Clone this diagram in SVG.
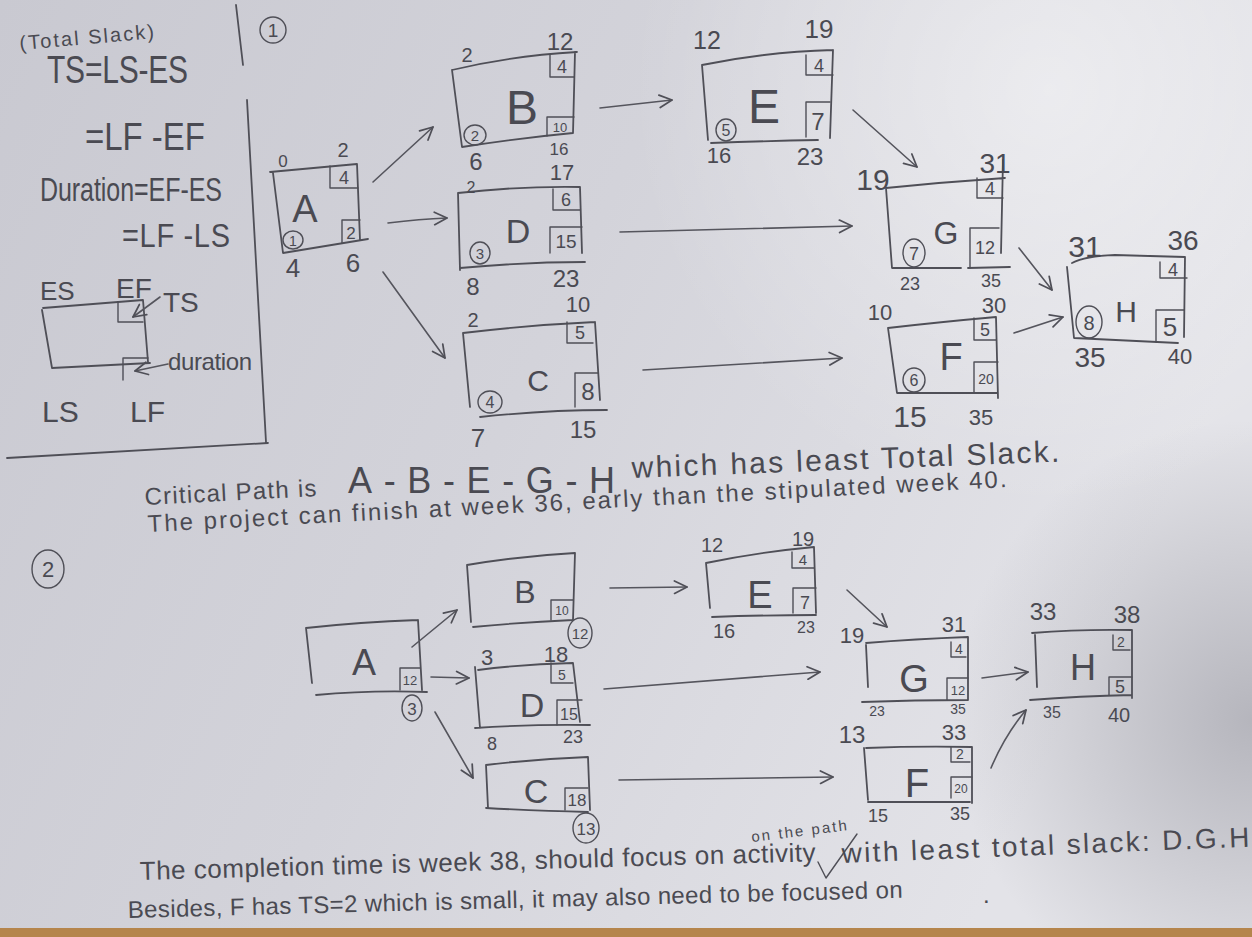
<svg xmlns="http://www.w3.org/2000/svg" width="1252" height="937" viewBox="0 0 1252 937">
<defs>
<linearGradient id="paper" x1="0" y1="0" x2="1" y2="0.35">
<stop offset="0" stop-color="#c9c9d1"/>
<stop offset="0.5" stop-color="#d3d3da"/>
<stop offset="1" stop-color="#e3e3e8"/>
</linearGradient>
<radialGradient id="hl" cx="1050" cy="90" r="420" gradientUnits="userSpaceOnUse">
<stop offset="0" stop-color="#ffffff" stop-opacity="0.45"/>
<stop offset="1" stop-color="#ffffff" stop-opacity="0"/>
</radialGradient>
<radialGradient id="sh" cx="1252" cy="720" r="300" gradientUnits="userSpaceOnUse">
<stop offset="0" stop-color="#7e7e88" stop-opacity="0.45"/>
<stop offset="1" stop-color="#7e7e88" stop-opacity="0"/>
</radialGradient>
<marker id="ah" viewBox="0 0 12 12" refX="11" refY="6" markerWidth="15" markerHeight="15" markerUnits="userSpaceOnUse" orient="auto">
<path d="M1,1 L11,6 L1,11" fill="none" stroke="#4f4f57" stroke-width="1.4" stroke-linecap="round" stroke-linejoin="round"/>
</marker>
<style>
.ln{fill:none;stroke:#4f4f57;stroke-width:1.8;stroke-linecap:round;stroke-linejoin:round}
.sb{fill:none;stroke:#4f4f57;stroke-width:1.4;stroke-linecap:round;stroke-linejoin:round}
.cn{fill:none;stroke:#55555d;stroke-width:1.6;stroke-linecap:round;marker-end:url(#ah)}
.t{font-family:"Liberation Sans","DejaVu Sans",sans-serif;fill:#4a4a52}
.m{text-anchor:middle}
</style>
</defs>
<rect width="1252" height="937" fill="url(#paper)"/>
<rect width="1252" height="937" fill="url(#hl)"/>
<rect width="1252" height="937" fill="url(#sh)"/>
<rect x="0" y="928" width="1252" height="9" fill="#b5854c"/>

<g id="legend">
<text class="t" x="20" y="50" font-size="20" textLength="135" transform="rotate(-5 20 50)">(Total Slack)</text>
<text class="t" x="0" y="0" font-size="30" textLength="141" transform="translate(47 83) scale(1 1.3)">TS=LS-ES</text>
<text class="t" x="0" y="0" font-size="33" textLength="120" transform="translate(85 150) scale(1 1.2)">=LF -EF</text>
<text class="t" x="0" y="0" font-size="25" textLength="182" transform="translate(40 201) scale(1 1.3)">Duration=EF-ES</text>
<text class="t" x="0" y="0" font-size="29" textLength="108" transform="translate(122 247) scale(1 1.15)">=LF -LS</text>
<text class="t" x="40" y="300" font-size="26">ES</text>
<text class="t" x="116" y="298" font-size="28">EF</text>
<text class="t" x="163" y="312" font-size="28">TS</text>
<path class="ln" d="M43,308 L143,300 M42,310 L52,368 L150,363 M143,300 L148,362"/>
<path class="sb" d="M118,302 L118,322 L143,322 M123,380 L123,358 L148,358"/>
<path class="cn" d="M160,297 L133,317"/>
<path class="cn" d="M168,364 L135,371"/>
<text class="t" x="168" y="370" font-size="24" textLength="84">duration</text>
<text class="t" x="42" y="422" font-size="30">LS</text>
<text class="t" x="130" y="422" font-size="30">LF</text>
<path class="ln" d="M236,5 L243,65 M247,100 L266,442 M7,458 L268,443"/>
</g>

<g id="section1-label">
<circle class="sb" cx="273" cy="30" r="13"/>
<text class="t m" x="273" y="37" font-size="19">1</text>
</g>

<g id="s1-A">
<path class="ln" d="M270,172 L357,164 M273,173 L283,253 L368,239 M357,164 L360,240"/>
<path class="sb" d="M330,166 L330,188 L358,188 M342,243 L342,220 L360,220"/>
<text class="t m" x="344" y="184" font-size="18">4</text>
<text class="t m" x="351" y="239" font-size="17">2</text>
<ellipse class="sb" cx="293" cy="240" rx="10" ry="9"/>
<text class="t m" x="293" y="246" font-size="14">1</text>
<text class="t m" x="305" y="222" font-size="38">A</text>
<text class="t m" x="283" y="167" font-size="17">0</text>
<text class="t m" x="343" y="157" font-size="20">2</text>
<text class="t m" x="293" y="277" font-size="26">4</text>
<text class="t m" x="353" y="272" font-size="26">6</text>
</g>

<g id="s1-B">
<path class="ln" d="M452,70 Q510,56 577,52 M452,70 L462,147 Q520,138 573,133 M575,52 L573,133"/>
<path class="sb" d="M550,55 L550,77 L574,77 M547,136 L547,117 L574,117"/>
<text class="t m" x="562" y="73" font-size="18">4</text>
<text class="t m" x="560" y="132" font-size="13">10</text>
<ellipse class="sb" cx="475" cy="135" rx="11" ry="10"/>
<text class="t m" x="475" y="141" font-size="15">2</text>
<text class="t m" x="522" y="124" font-size="48">B</text>
<text class="t m" x="467" y="62" font-size="20">2</text>
<text class="t m" x="560" y="50" font-size="24">12</text>
<text class="t m" x="559" y="155" font-size="17">16</text>
<text class="t m" x="476" y="170" font-size="24">6</text>
</g>

<g id="s1-D">
<path class="ln" d="M458,193 Q520,186 580,187 M458,193 L460,270 M460,268 Q525,262 585,262 M580,187 L582,253"/>
<path class="sb" d="M553,189 L553,210 L580,210 M550,253 L550,227 L582,227"/>
<text class="t m" x="566" y="206" font-size="18">6</text>
<text class="t m" x="566" y="248" font-size="19">15</text>
<ellipse class="sb" cx="480" cy="253" rx="10" ry="11"/>
<text class="t m" x="480" y="259" font-size="15">3</text>
<text class="t m" x="518" y="243" font-size="34">D</text>
<text class="t m" x="471" y="193" font-size="16">2</text>
<text class="t m" x="562" y="180" font-size="22">17</text>
<text class="t m" x="473" y="295" font-size="24">8</text>
<text class="t m" x="566" y="287" font-size="24">23</text>
</g>

<g id="s1-C">
<path class="ln" d="M463,333 Q530,325 595,322 M463,333 L470,407 M480,417 Q545,410 607,410 M595,322 L600,400"/>
<path class="sb" d="M567,322 L567,343 L593,343 M575,407 L575,373 L598,373"/>
<text class="t m" x="580" y="339" font-size="18">5</text>
<text class="t m" x="588" y="400" font-size="24">8</text>
<ellipse class="sb" cx="490" cy="402" rx="12" ry="11"/>
<text class="t m" x="490" y="408" font-size="16">4</text>
<text class="t m" x="538" y="391" font-size="30">C</text>
<text class="t m" x="473" y="327" font-size="20">2</text>
<text class="t m" x="578" y="312" font-size="22">10</text>
<text class="t m" x="478" y="447" font-size="26">7</text>
<text class="t m" x="583" y="438" font-size="24">15</text>
</g>

<g id="s1-E">
<path class="ln" d="M702,65 Q765,52 833,50 M702,65 L708,140 M711,143 Q765,141 818,140 M833,50 L830,138"/>
<path class="sb" d="M806,55 L806,75 L833,75 M806,137 L806,102 L830,102"/>
<text class="t m" x="819" y="72" font-size="18">4</text>
<text class="t m" x="818" y="130" font-size="24">7</text>
<ellipse class="sb" cx="726" cy="130" rx="10" ry="11"/>
<text class="t m" x="726" y="136" font-size="16">5</text>
<text class="t m" x="764" y="123" font-size="48">E</text>
<text class="t m" x="707" y="49" font-size="25">12</text>
<text class="t m" x="819" y="38" font-size="26">19</text>
<text class="t m" x="719" y="163" font-size="22">16</text>
<text class="t m" x="810" y="165" font-size="24">23</text>
</g>

<g id="s1-G">
<path class="ln" d="M886,188 Q945,182 1005,178 M886,188 L892,268 L961,268 M968,268 L1010,267 M1003,160 L1001,253"/>
<path class="sb" d="M977,178 L977,198 L1003,198 M970,268 L970,228 L999,228"/>
<text class="t m" x="990" y="195" font-size="18">4</text>
<text class="t m" x="985" y="254" font-size="18">12</text>
<ellipse class="sb" cx="914" cy="253" rx="11" ry="14"/>
<text class="t m" x="914" y="260" font-size="18">7</text>
<text class="t m" x="946" y="244" font-size="32">G</text>
<text class="t m" x="873" y="190" font-size="30">19</text>
<text class="t m" x="995" y="173" font-size="28">31</text>
<text class="t m" x="910" y="290" font-size="18">23</text>
<text class="t m" x="991" y="287" font-size="18">35</text>
</g>

<g id="s1-F">
<path class="ln" d="M888,328 Q940,322 996,317 M888,328 L897,393 L998,393 M996,317 L998,398"/>
<path class="sb" d="M974,318 L974,340 L996,340 M974,392 L974,362 L998,362"/>
<text class="t m" x="985" y="336" font-size="18">5</text>
<text class="t m" x="986" y="384" font-size="14">20</text>
<ellipse class="sb" cx="914" cy="380" rx="11" ry="12"/>
<text class="t m" x="914" y="386" font-size="16">6</text>
<text class="t m" x="951" y="370" font-size="38">F</text>
<text class="t m" x="880" y="320" font-size="22">10</text>
<text class="t m" x="994" y="313" font-size="22">30</text>
<text class="t m" x="910" y="427" font-size="30">15</text>
<text class="t m" x="981" y="425" font-size="22">35</text>
</g>

<g id="s1-H">
<path class="ln" d="M1072,263 Q1085,256 1115,255 Q1150,256 1185,257 M1067,267 L1074,338 L1178,343 M1185,257 L1184,337"/>
<path class="sb" d="M1160,262 L1160,278 L1187,278 M1156,342 L1156,310 L1184,310"/>
<text class="t m" x="1173" y="276" font-size="18">4</text>
<text class="t m" x="1170" y="336" font-size="26">5</text>
<ellipse class="sb" cx="1089" cy="322" rx="13" ry="16"/>
<text class="t m" x="1089" y="330" font-size="20">8</text>
<text class="t m" x="1126" y="322" font-size="30">H</text>
<text class="t m" x="1085" y="257" font-size="30">31</text>
<text class="t m" x="1183" y="250" font-size="28">36</text>
<text class="t m" x="1090" y="367" font-size="28">35</text>
<text class="t m" x="1180" y="364" font-size="22">40</text>
</g>

<g id="section2-label">
<ellipse class="sb" cx="48" cy="569" rx="16" ry="19"/>
<text class="t m" x="48" y="577" font-size="22">2</text>
</g>

<g id="s2-A">
<path class="ln" d="M306,628 Q360,622 418,620 M306,628 L312,683 M316,695 Q370,690 427,692 M418,620 L422,690"/>
<path class="sb" d="M400,690 L400,668 L420,668"/>
<text class="t m" x="410" y="685" font-size="13">12</text>
<ellipse class="sb" cx="412" cy="708" rx="10" ry="13"/>
<text class="t m" x="412" y="715" font-size="17">3</text>
<text class="t m" x="364" y="675" font-size="36">A</text>
</g>

<g id="s2-B">
<path class="ln" d="M467,565 Q520,556 575,553 M467,565 L471,622 M473,627 Q525,622 573,620 M575,553 L573,620"/>
<path class="sb" d="M551,620 L551,600 L573,600"/>
<text class="t m" x="562" y="615" font-size="12">10</text>
<ellipse class="sb" cx="580" cy="633" rx="12" ry="15"/>
<text class="t m" x="580" y="639" font-size="15">12</text>
<text class="t m" x="525" y="603" font-size="32">B</text>
</g>

<g id="s2-D">
<path class="ln" d="M478,670 Q525,664 573,663 L580,722 M475,667 L480,728 M475,728 Q535,724 590,725"/>
<path class="sb" d="M551,663 L551,683 L573,683 M557,725 L557,700 L582,700"/>
<text class="t m" x="562" y="680" font-size="14">5</text>
<text class="t m" x="569" y="720" font-size="16">15</text>
<text class="t m" x="532" y="717" font-size="34">D</text>
<text class="t m" x="487" y="665" font-size="22">3</text>
<text class="t m" x="556" y="662" font-size="22">18</text>
<text class="t m" x="492" y="750" font-size="18">8</text>
<text class="t m" x="573" y="743" font-size="18">23</text>
</g>

<g id="s2-C">
<path class="ln" d="M486,765 Q535,759 588,757 L590,810 M486,765 L488,808 M486,808 Q540,811 588,812"/>
<path class="sb" d="M565,810 L565,788 L588,788"/>
<text class="t m" x="577" y="806" font-size="17">18</text>
<ellipse class="sb" cx="586" cy="828" rx="13" ry="15"/>
<text class="t m" x="586" y="835" font-size="17">13</text>
<text class="t m" x="536" y="803" font-size="34">C</text>
</g>

<g id="s2-E">
<path class="ln" d="M706,563 Q760,552 814,547 L816,613 M706,563 L710,608 M712,617 Q765,615 816,615"/>
<path class="sb" d="M792,552 L792,568 L814,568 M793,613 L793,588 L816,588"/>
<text class="t m" x="803" y="565" font-size="15">4</text>
<text class="t m" x="805" y="609" font-size="18">7</text>
<text class="t m" x="760" y="608" font-size="38">E</text>
<text class="t m" x="712" y="552" font-size="20">12</text>
<text class="t m" x="803" y="546" font-size="20">19</text>
<text class="t m" x="724" y="638" font-size="20">16</text>
<text class="t m" x="806" y="633" font-size="16">23</text>
</g>

<g id="s2-G">
<path class="ln" d="M866,643 Q915,639 968,637 L968,700 M866,645 L868,687 M862,702 Q915,700 968,700"/>
<path class="sb" d="M951,642 L951,657 L966,657 M947,700 L947,678 L968,678"/>
<text class="t m" x="959" y="654" font-size="14">4</text>
<text class="t m" x="958" y="695" font-size="13">12</text>
<text class="t m" x="914" y="692" font-size="38">G</text>
<text class="t m" x="852" y="643" font-size="22">19</text>
<text class="t m" x="954" y="632" font-size="22">31</text>
<text class="t m" x="877" y="716" font-size="14">23</text>
<text class="t m" x="958" y="714" font-size="14">35</text>
</g>

<g id="s2-H">
<path class="ln" d="M1032,633 Q1080,629 1132,630 L1132,698 M1035,635 L1037,687 M1030,700 Q1080,696 1132,695"/>
<path class="sb" d="M1113,635 L1113,650 L1130,650 M1109,695 L1109,677 L1132,677"/>
<text class="t m" x="1121" y="647" font-size="14">2</text>
<text class="t m" x="1120" y="693" font-size="18">5</text>
<text class="t m" x="1083" y="680" font-size="36">H</text>
<text class="t m" x="1043" y="620" font-size="24">33</text>
<text class="t m" x="1127" y="623" font-size="24">38</text>
<text class="t m" x="1052" y="718" font-size="16">35</text>
<text class="t m" x="1119" y="722" font-size="20">40</text>
</g>

<g id="s2-F">
<path class="ln" d="M866,748 Q918,746 972,747 L972,803 M864,748 L868,800 M868,802 L970,802"/>
<path class="sb" d="M951,747 L951,762 L970,762 M951,798 L951,777 L972,777"/>
<text class="t m" x="960" y="759" font-size="14">2</text>
<text class="t m" x="961" y="793" font-size="12">20</text>
<text class="t m" x="917" y="797" font-size="40">F</text>
<text class="t m" x="852" y="743" font-size="24">13</text>
<text class="t m" x="954" y="740" font-size="22">33</text>
<text class="t m" x="878" y="822" font-size="18">15</text>
<text class="t m" x="960" y="820" font-size="18">35</text>
</g>

<g id="connectors">
<path class="cn" d="M373,182 L433,127"/>
<path class="cn" d="M388,223 Q420,219 447,218"/>
<path class="cn" d="M383,272 L445,358"/>
<path class="cn" d="M600,108 L672,100"/>
<path class="cn" d="M620,232 L852,226"/>
<path class="cn" d="M643,370 L842,358"/>
<path class="cn" d="M853,110 L917,167"/>
<path class="cn" d="M1019,248 L1052,290"/>
<path class="cn" d="M1014,333 L1063,317"/>
<path class="cn" d="M412,647 L457,610"/>
<path class="cn" d="M431,677 L469,678"/>
<path class="cn" d="M435,712 L473,778"/>
<path class="cn" d="M610,588 L687,587"/>
<path class="cn" d="M847,590 L887,627"/>
<path class="cn" d="M604,689 L820,672"/>
<path class="cn" d="M982,678 L1028,672"/>
<path class="cn" d="M619,780 L833,777"/>
<path class="cn" d="M991,768 Q1005,735 1026,710"/>
</g>

<g id="notes">
<text class="t" x="145" y="505" font-size="24" textLength="172" transform="rotate(-3 145 505)">Critical Path is</text>
<text class="t" x="348" y="493" font-size="36" textLength="267">A-B-E-G-H</text>
<text class="t" x="632" y="478" font-size="30" textLength="428" transform="rotate(-2.2 632 478)">which has least Total Slack.</text>
<text class="t" x="148" y="532" font-size="24" textLength="860" transform="rotate(-3 148 532)">The project can finish at week 36, early than the stipulated week 40.</text>
<text class="t" x="140" y="880" font-size="26" textLength="676" transform="rotate(-1.6 140 880)">The completion time is week 38, should focus on activity</text>
<text class="t" x="752" y="842" font-size="15" textLength="96" transform="rotate(-7 752 842)">on the path</text>
<path class="sb" d="M818,862 L826,878 L857,834"/>
<text class="t" x="842" y="863" font-size="28" textLength="408" transform="rotate(-2.3 842 863)">with least total slack: D.G.H</text>
<text class="t" x="128" y="918" font-size="24" textLength="775" transform="rotate(-1.5 128 918)">Besides, F has TS=2 which is small, it may also need to be focused on</text>
<text class="t" x="983" y="903" font-size="24">.</text>
</g>
</svg>
